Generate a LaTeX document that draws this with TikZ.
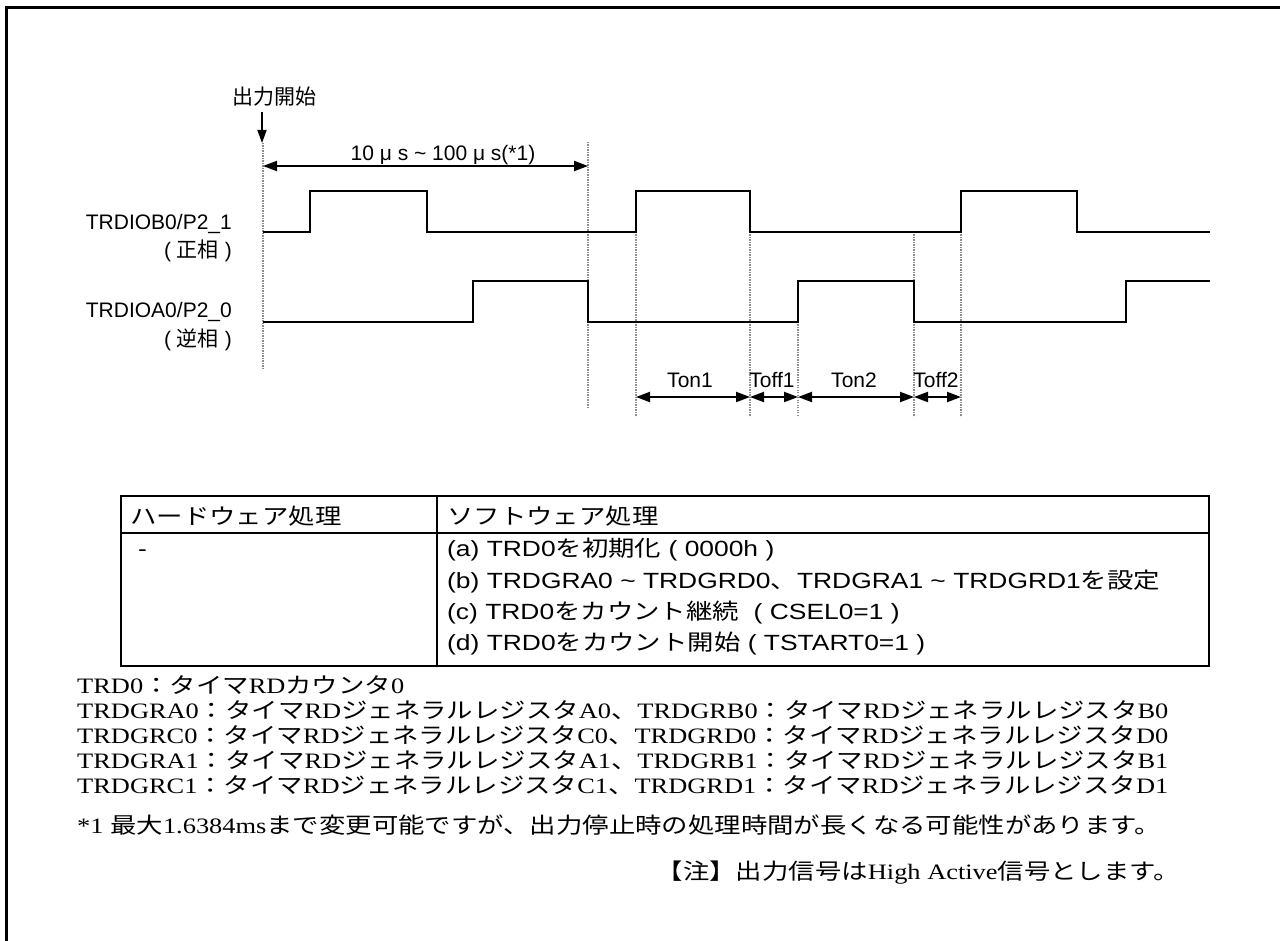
\documentclass[tikz,border=0pt]{standalone}
\usepackage{fontspec}
\setmainfont{Liberation Sans}
\newfontfamily\jp{Noto Sans CJK JP}
\newfontfamily\sw[FakeStretch=1.2]{Liberation Sans}
\newfontfamily\jw[FakeStretch=1.2]{Noto Sans CJK JP}
\newfontfamily\tw[FakeStretch=1.2]{Liberation Serif}
\usetikzlibrary{arrows.meta}
\newcommand\J[1]{{\jp #1}}
\newcommand\W[1]{{\jw #1}}
\newcommand\tl{\textasciitilde}
\begin{document}
\begin{tikzpicture}[x=1pt,y=-1pt,
  sig/.style={line width=2pt, line join=miter},
  guide/.style={black!45, line width=1.2pt, dash pattern=on 1.2pt off 1.3pt},
  dimarr/.style={line width=2pt, {Triangle[length=14pt,width=10pt]}-{Triangle[length=14pt,width=10pt]}},
  downarr/.style={line width=1.6pt, -{Triangle[length=13pt,width=9pt]}},
  lbl/.style={font=\fontsize{21}{25}\selectfont, inner sep=0pt},
  tbl/.style={font=\sw\fontsize{22}{26}\selectfont, inner sep=0pt, anchor=base west},
  note/.style={font=\tw\fontsize{22}{26}\selectfont, inner sep=0pt, anchor=base west},
]
\useasboundingbox (0,0) rectangle (1280,941);
\fill[white] (0,0) rectangle (1280,941);
% frame
\draw[line width=3pt] (6,950) -- (6,8) -- (1290,8);

% guide lines
\draw[guide] (263,143) -- (263,369);
\draw[guide] (588,142) -- (588,408);
\draw[guide] (636,232) -- (636,417);
\draw[guide] (750,232) -- (750,417);
\draw[guide] (798,322) -- (798,417);
\draw[guide] (914,232) -- (914,417);
\draw[guide] (961,232) -- (961,417);

% signals
\draw[sig] (263,232) -- (310,232) -- (310,191) -- (427,191) -- (427,232) -- (636,232) -- (636,191) -- (750,191) -- (750,232) -- (961,232) -- (961,191) -- (1077,191) -- (1077,232) -- (1210,232);
\draw[sig] (263,322) -- (473,322) -- (473,281) -- (588,281) -- (588,322) -- (798,322) -- (798,281) -- (914,281) -- (914,322) -- (1126,322) -- (1126,281) -- (1210,281);

% start label and arrow
\node[lbl] (start) at (274,97) {\J{出力開始}};
\coordinate (s0) at (262,112);
\coordinate (s1) at (262,143);
\draw[downarr] (s0) -- (s1);

% period dimension
\coordinate (p0) at (263,166);
\coordinate (p1) at (588,166);
\draw[dimarr] (p0) -- (p1);
\node[lbl, anchor=base] (period) at (443,161) {10 μ s \tl\ 100 μ s(*1)};

% signal labels
\node[lbl, anchor=base east] (bname) at (232,230) {TRDIOB0/P2\_1};
\node[lbl, anchor=base east] (bphase) at (232,258) {( \J{正相} )};
\node[lbl, anchor=base east] (aname) at (232,318) {TRDIOA0/P2\_0};
\node[lbl, anchor=base east] (aphase) at (232,347) {( \J{逆相} )};

% Ton / Toff dimensions
\coordinate (t0) at (636,397);
\coordinate (t1) at (750,397);
\coordinate (t2) at (798,397);
\coordinate (t3) at (914,397);
\coordinate (t4) at (961,397);
\draw[dimarr] (t0) -- (t1);
\draw[dimarr] (t1) -- (t2);
\draw[dimarr] (t2) -- (t3);
\draw[dimarr] (t3) -- (t4);
\node[lbl, anchor=base] (ton1) at (690,388) {Ton1};
\node[lbl, anchor=base] (toff1) at (772,388) {Toff1};
\node[lbl, anchor=base] (ton2) at (854,388) {Ton2};
\node[lbl, anchor=base] (toff2) at (936,388) {Toff2};

% table
\draw[line width=2pt] (121,496) rectangle (1209,666);
\draw[line width=2pt] (121,533) -- (1209,533);
\draw[line width=2pt] (437,496) -- (437,666);
\node[tbl] (hw) at (130,524) {\W{ハードウェア処理}};
\node[tbl] (swh) at (447,524) {\W{ソフトウェア処理}};
\node[tbl] (dash) at (138,556) {-};
\node[tbl] (ra) at (447,556) {(a) TRD0\W{を初期化} ( 0000h )};
\node[tbl] (rb) at (447,588) {(b) TRDGRA0 \tl\ TRDGRD0\W{、}TRDGRA1 \tl\ TRDGRD1\W{を設定}};
\node[tbl] (rc) at (447,619) {(c) TRD0\W{をカウント継続}\ \ ( CSEL0=1 )};
\node[tbl] (rd) at (447,650) {(d) TRD0\W{をカウント開始} ( TSTART0=1 )};

% notes
\node[note] (n1) at (77,693) {TRD0\W{：タイマ}RD\W{カウンタ}0};
\node[note] (n2) at (77,718) {TRDGRA0\W{：タイマ}RD\W{ジェネラルレジスタ}A0\W{、}TRDGRB0\W{：タイマ}RD\W{ジェネラルレジスタ}B0};
\node[note] (n3) at (77,743) {TRDGRC0\W{：タイマ}RD\W{ジェネラルレジスタ}C0\W{、}TRDGRD0\W{：タイマ}RD\W{ジェネラルレジスタ}D0};
\node[note] (n4) at (77,768) {TRDGRA1\W{：タイマ}RD\W{ジェネラルレジスタ}A1\W{、}TRDGRB1\W{：タイマ}RD\W{ジェネラルレジスタ}B1};
\node[note] (n5) at (77,793) {TRDGRC1\W{：タイマ}RD\W{ジェネラルレジスタ}C1\W{、}TRDGRD1\W{：タイマ}RD\W{ジェネラルレジスタ}D1};
\node[note] (n6) at (77,833) {*1 \W{最大}1.6384ms\W{まで変更可能ですが、出力停止時の処理時間が長くなる可能性があります。}};
\node[note, anchor=base east] (n7) at (1180,879) {\W{【注】出力信号は}High Active\W{信号とします。}};
\end{tikzpicture}
\end{document}
